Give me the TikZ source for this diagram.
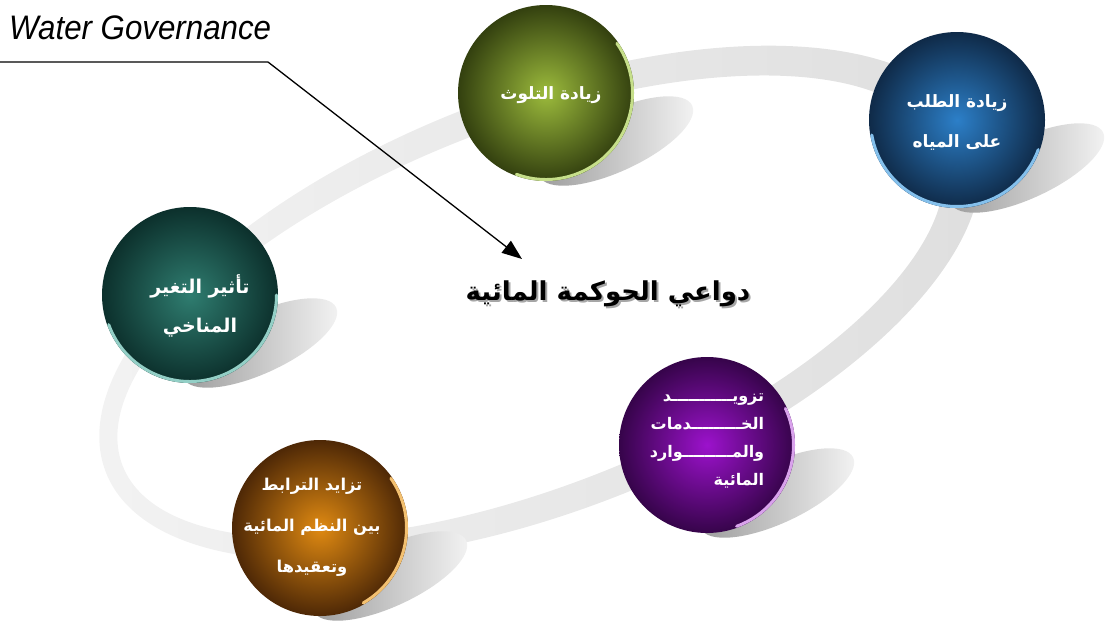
\documentclass[tikz,border=0pt]{standalone}
\usepackage{fontspec}
\setmainfont{Liberation Sans}
\newfontfamily\arabicfont[Script=Arabic]{DejaVu Sans}
\TeXXeTstate=1
\usetikzlibrary{calc,arrows.meta}
\definecolor{grnIn}{HTML}{9CBB3C}\definecolor{grnOut}{HTML}{33400F}\definecolor{grnRim}{HTML}{C6DF8A}
\definecolor{bluIn}{HTML}{2C7FC8}\definecolor{bluOut}{HTML}{0F2A48}\definecolor{bluRim}{HTML}{84C0EC}
\definecolor{tealIn}{HTML}{2F7D70}\definecolor{tealOut}{HTML}{0C302C}\definecolor{tealRim}{HTML}{93CFC6}
\definecolor{purIn}{HTML}{9C12CC}\definecolor{purOut}{HTML}{36044A}\definecolor{purRim}{HTML}{D9A2EC}
\definecolor{orgIn}{HTML}{E08A12}\definecolor{orgOut}{HTML}{4E2806}\definecolor{orgRim}{HTML}{F3C070}
\definecolor{ringL}{HTML}{F3F3F3}\definecolor{ringR}{HTML}{DEDEDE}
\tikzset{
  bubble/.style={circle, minimum size=176pt, inner sep=0pt, shade, text=white},
  bubtext/.style={align=center, text=white, inner sep=0pt},
  castshadow/.style={left color=black!40, right color=black!4},
  rimline/.style={line width=3pt, line cap=round},
  titletext/.style={font=\arabicfont\bfseries\fontsize{26}{30}\selectfont},
}
\begin{document}
\begin{tikzpicture}[x=1pt,y=1pt]
\path[use as bounding box] (0,0) rectangle (1113,-621);
% ring
\begin{scope}[shift={(540,-303)}, rotate=21.3]
  \shade[even odd rule, left color=ringL, right color=ringR]
     (0,0) ellipse [x radius=466, y radius=208]
     (-10,0) ellipse [x radius=438, y radius=180];
\end{scope}
% cast shadows
\foreach \cx/\cy in {546/-93, 957/-120, 190/-295, 707/-445, 320/-528}{
  \begin{scope}[shift={(\cx+70,\cy-48)}, rotate=25]
    \shade[castshadow] (0,0) ellipse [x radius=84, y radius=30];
  \end{scope}
}
% bubbles
\node[bubble, inner color=grnIn, outer color=grnOut] (green) at (546,-93) {};
\node[bubble, inner color=bluIn, outer color=bluOut] (blue) at (957,-120) {};
\node[bubble, inner color=tealIn, outer color=tealOut] (teal) at (190,-295) {};
\node[bubble, inner color=purIn, outer color=purOut] (purple) at (707,-445) {};
\node[bubble, inner color=orgIn, outer color=orgOut] (orange) at (320,-528) {};
% rims
\draw[rimline, grnRim] ($(green.center)+(-110:86.5)$) arc[start angle=-110, end angle=35, radius=86.5];
\draw[rimline, bluRim] ($(blue.center)+(-170:86.5)$) arc[start angle=-170, end angle=-20, radius=86.5];
\draw[rimline, tealRim] ($(teal.center)+(-160:86.5)$) arc[start angle=-160, end angle=0, radius=86.5];
\draw[rimline, purRim] ($(purple.center)+(-70:86.5)$) arc[start angle=-70, end angle=25, radius=86.5];
\draw[rimline, orgRim] ($(orange.center)+(-60:86.5)$) arc[start angle=-60, end angle=35, radius=86.5];
% bubble texts
\node[bubtext, font=\arabicfont\bfseries\fontsize{17}{20}\selectfont] (greenT) at (551,-95)
  {\beginR زيادة التلوث\endR};
\node[bubtext, font=\arabicfont\bfseries\fontsize{17}{40}\selectfont] (blueT) at (957,-122)
  {\beginR زيادة الطلب\endR\\\beginR على المياه\endR};
\node[bubtext, font=\arabicfont\bfseries\fontsize{19}{39}\selectfont] (tealT) at (200,-306)
  {\beginR تأثير التغير\endR\\\beginR المناخي\endR};
\node[bubtext, align=right, font=\arabicfont\bfseries\fontsize{16}{28}\selectfont] (purpleT) at (707,-441)
  {\beginR تزويـــــــــــد\endR\\\beginR الخـــــــــدمات\endR\\\beginR والمـــــــــوارد\endR\\\beginR المائية\endR};
\node[bubtext, font=\arabicfont\bfseries\fontsize{16.3}{41}\selectfont] (orangeT) at (312,-527)
  {\beginR تزايد الترابط\endR\\\beginR بين النظم المائية\endR\\\beginR وتعقيدها\endR};
% title
\node[titletext, text=black!35] (titleshadow) at (610,-296) {\beginR دواعي الحوكمة المائية\endR};
\node[titletext] (title) at (608,-294) {\beginR دواعي الحوكمة المائية\endR};
% Water Governance label
\node[anchor=west, inner sep=0pt, font=\itshape\fontsize{34}{40}\selectfont] (wg) at (9,-28)
  {\scalebox{0.92}[1]{Water Governance}};
\coordinate (wgL) at (0,-62);
\coordinate (wgK) at (268,-62);
\coordinate (tip) at (522,-259);
\draw[line width=1.3pt, -{Triangle[length=20pt,width=15pt]}] (wgL) -- (wgK) -- (tip);
\end{tikzpicture}
\end{document}
